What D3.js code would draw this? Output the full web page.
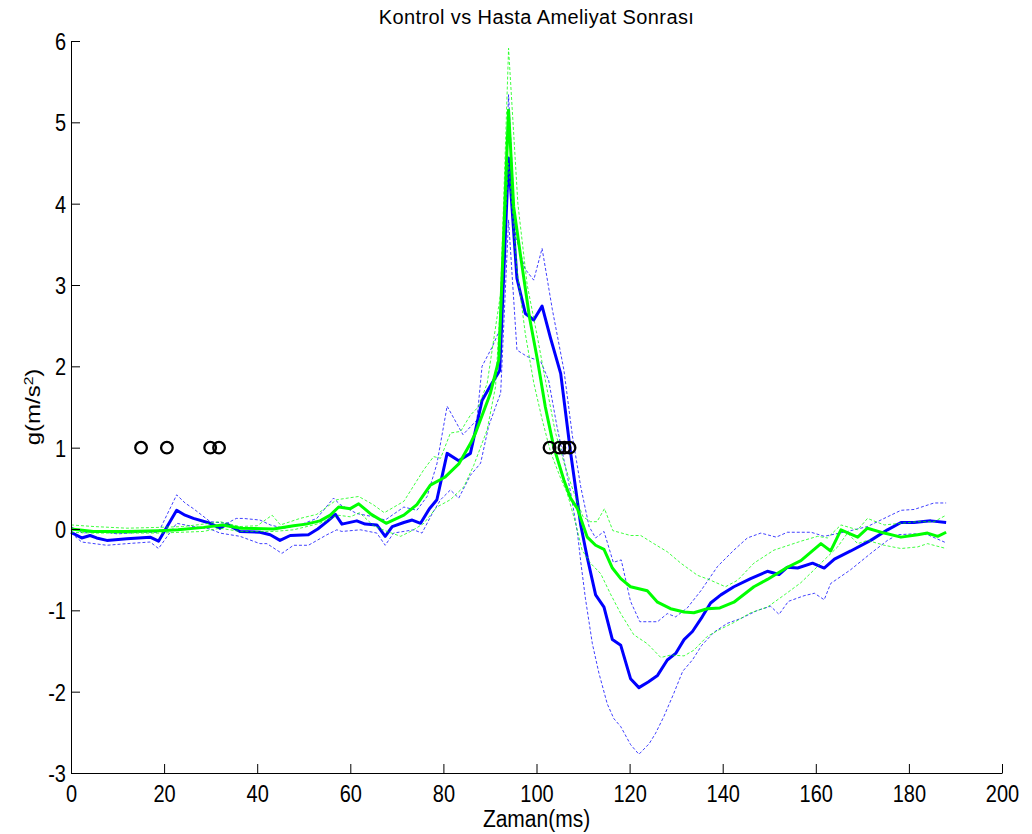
<!DOCTYPE html>
<html>
<head>
<meta charset="utf-8">
<script src="https://cdn.jsdelivr.net/npm/d3@7"></script>
<style>
  html, body { margin: 0; padding: 0; background: #fff; }
  svg { display: block; }
  text { font-family: "Liberation Sans", Arial, sans-serif; fill: #000; }
</style>
</head>
<body>
<svg id="chart" width="1032" height="834"></svg>
<script>
// [time (ms), g (m/s^2)] pairs for each curve
const kontrolOrt = [[0,-0.04],[2.3,-0.11],[4.1,-0.08],[5.5,-0.11],[7.7,-0.14],[12,-0.12],[17,-0.1],[18.8,-0.15],[22.7,0.23],[24.5,0.17],[26.3,0.13],[29.9,0.07],[32,0.01],[33.5,0.06],[36.3,-0.03],[40.6,-0.04],[42.8,-0.07],[44.9,-0.14],[47.1,-0.08],[51,-0.07],[53,0.0],[55,0.09],[56.8,0.18],[58.2,0.06],[61.4,0.1],[63.2,0.06],[65.7,0.05],[67.5,-0.09],[69,0.03],[71.5,0.08],[73.3,0.11],[75.1,0.07],[77,0.25],[78.6,0.36],[80.8,0.93],[83.3,0.84],[85.8,0.93],[88.3,1.58],[90.1,1.76],[92.1,1.95],[94.0,4.56],[95.8,3.08],[97.6,2.65],[99.4,2.57],[101.2,2.74],[103.0,2.35],[105.2,1.91],[107.3,0.95],[109.5,0.05],[110.9,-0.35],[112.7,-0.81],[114.5,-0.96],[116.3,-1.36],[118.1,-1.43],[120.2,-1.84],[122,-1.95],[124,-1.88],[126,-1.8],[128.1,-1.61],[129.9,-1.53],[131.7,-1.36],[133.5,-1.26],[135.6,-1.08],[137.4,-0.91],[139.6,-0.81],[142.4,-0.71],[146,-0.61],[149.6,-0.52],[152.1,-0.56],[153.9,-0.47],[156.1,-0.48],[159.3,-0.42],[161.8,-0.48],[164,-0.37],[167.5,-0.27],[171.8,-0.14],[175.4,-0.01],[178.3,0.08],[181.1,0.08],[184.7,0.1],[188,0.08]];

const kontrolUst = [[0,0.03],[2.5,-0.05],[6,-0.03],[10,-0.06],[15,-0.04],[18.8,-0.04],[22.7,0.42],[24.5,0.32],[26.3,0.25],[29.9,0.09],[33.5,0.07],[35.5,0.13],[37,0.13],[40.6,0.11],[42.8,0.05],[45.7,0.01],[49.2,0.05],[52.8,0.13],[56.4,0.38],[57.8,0.3],[61.4,0.19],[65,0.15],[67.5,0.11],[71.5,0.27],[74.3,0.23],[76.5,0.4],[78.6,0.8],[80.8,1.51],[84.2,1.16],[87.2,1.34],[88.3,2.0],[90.5,2.24],[92.1,2.45],[94,5.34],[95.5,3.6],[97.5,3.2],[99.4,3.06],[101.2,3.45],[103.4,2.7],[105.9,1.95],[107.7,1.15],[109.5,0.52],[111.3,0.03],[112.7,-0.11],[114.5,-0.03],[116.5,-0.41],[118.2,-0.38],[120.2,-0.89],[122.2,-1.14],[126,-1.14],[128.1,-1.04],[129.9,-1.08],[132.4,-0.97],[135.3,-0.76],[138.9,-0.46],[142.4,-0.26],[145.3,-0.11],[148.2,-0.05],[151.5,-0.1],[153.9,-0.04],[159,-0.04],[161.8,-0.09],[166.8,-0.03],[171.1,0.03],[175.4,0.15],[178.3,0.23],[181.1,0.24],[185.4,0.32],[188,0.32]];

const kontrolAlt = [[0,-0.05],[2.3,-0.16],[7.7,-0.2],[12,-0.18],[17,-0.16],[18.8,-0.24],[22.7,0.07],[26.3,0.03],[29.9,0.0],[32,-0.05],[36.3,-0.09],[40.6,-0.18],[42.1,-0.18],[45.3,-0.3],[47.8,-0.2],[51,-0.2],[55,-0.07],[57.1,-0.01],[58.2,-0.03],[62.2,-0.01],[65.7,-0.05],[67.5,-0.2],[69.3,-0.05],[73.6,-0.01],[75.4,-0.05],[77.6,0.19],[79.4,0.36],[81.5,0.48],[83.3,0.38],[85.8,0.66],[88,0.81],[89.7,1.26],[91.2,1.5],[92.3,1.67],[94,3.8],[95.8,2.2],[98,2.12],[100.9,2.06],[102.6,1.83],[104.4,1.26],[105.9,0.85],[107.3,0.46],[108.8,-0.05],[109.5,-0.4],[110.5,-0.85],[112,-1.41],[113.4,-1.77],[115.2,-2.15],[116.6,-2.33],[118.1,-2.43],[120.2,-2.65],[122,-2.77],[124.2,-2.64],[125.6,-2.51],[127.4,-2.3],[129.5,-2.02],[131.4,-1.75],[133.5,-1.61],[135.5,-1.43],[138.1,-1.27],[141,-1.16],[143.9,-1.1],[147.5,-1.0],[150.3,-0.95],[152.1,-1.05],[154.1,-0.89],[157.5,-0.82],[159.7,-0.79],[161.8,-0.87],[163.2,-0.67],[167.5,-0.5],[171.8,-0.3],[175.4,-0.14],[177.6,-0.07],[181.1,-0.06],[184,-0.07],[188,-0.17]];

const hastaOrt = [[0,0.0],[4.8,-0.03],[12,-0.03],[19,-0.02],[23,-0.01],[28.5,0.02],[32.5,0.05],[36.5,0.01],[43.5,0.0],[47.8,0.04],[50.5,0.06],[53.5,0.1],[55.7,0.17],[57.5,0.27],[60,0.25],[61.8,0.31],[64.5,0.18],[67.7,0.07],[71.5,0.17],[74.3,0.3],[77.2,0.54],[80.4,0.64],[83.3,0.8],[85.8,1.05],[86.9,1.18],[90.1,1.67],[91.9,2.08],[94,5.15],[95.1,3.96],[96.6,3.35],[98.5,2.6],[100.2,2.08],[101.9,1.5],[103.7,1.01],[105.9,0.6],[107.3,0.38],[108.8,0.25],[110.9,-0.1],[112.7,-0.2],[114.5,-0.25],[116.3,-0.48],[118.1,-0.61],[120.2,-0.71],[123.8,-0.76],[126,-0.9],[128.8,-0.98],[131.7,-1.02],[133.8,-1.03],[136.7,-0.98],[139.4,-0.97],[142.4,-0.9],[146.7,-0.71],[149.6,-0.62],[153.9,-0.47],[156.8,-0.39],[161.1,-0.18],[163.2,-0.27],[165.4,-0.01],[169,-0.1],[171.1,0.01],[174.7,-0.05],[178.3,-0.1],[181.9,-0.07],[184,-0.05],[186.2,-0.09],[188,-0.04]];

const hastaUst = [[0,0.05],[5,0.03],[12,0.01],[19,0.02],[24,0.03],[28.4,0.06],[32,0.09],[36.3,0.03],[40,0.04],[43.2,0.17],[45,0.05],[49.2,0.13],[52.8,0.18],[57.1,0.36],[61.8,0.4],[64.9,0.3],[67.3,0.2],[71.5,0.34],[75.8,0.73],[77.9,0.89],[79.4,0.87],[81.5,1.18],[83.7,1.2],[85.8,1.4],[87.5,1.5],[89.4,1.79],[92.3,2.9],[94,5.91],[96,4.0],[98,3.0],[100.2,2.36],[102,1.8],[104,1.2],[106,0.8],[108,0.45],[110,0.15],[111.6,0.09],[113,0.09],[114.6,0.25],[116.4,-0.02],[120.2,-0.08],[122.4,-0.08],[125.2,-0.18],[128.1,-0.28],[131,-0.42],[134.6,-0.57],[137,-0.62],[140.6,-0.71],[143.2,-0.63],[146.7,-0.42],[151,-0.26],[156.8,-0.15],[160.4,-0.09],[162.5,-0.11],[165.4,0.05],[169,-0.01],[171.1,0.13],[174.7,0.05],[178.3,0.07],[181.9,0.09],[185.4,0.09],[188,0.17]];

const hastaAlt = [[0,-0.04],[5,-0.05],[19,-0.05],[28.4,-0.03],[32,0.01],[36.3,-0.03],[43.5,-0.03],[47.8,-0.01],[53.5,0.07],[57.3,0.17],[60,0.15],[62,0.2],[65,0.04],[67.9,-0.03],[70.8,-0.09],[73.3,-0.02],[75.8,0.07],[78.6,0.27],[81.5,0.36],[84.4,0.52],[86.5,0.78],[89.4,1.22],[91.2,1.75],[94,4.5],[95.8,3.2],[97.6,2.4],[99.4,1.8],[101.2,1.35],[103,0.95],[105,0.65],[106.6,0.44],[108.4,0.07],[109.8,-0.26],[111.6,-0.42],[113.8,-0.55],[115.9,-0.8],[118.1,-1.04],[120.9,-1.3],[123.8,-1.41],[126.7,-1.58],[128.8,-1.55],[131.7,-1.56],[133.8,-1.49],[136.7,-1.32],[139.2,-1.24],[142.4,-1.15],[146,-1.03],[149.6,-0.96],[153.5,-0.8],[156.8,-0.66],[161.1,-0.42],[164.7,-0.22],[166.8,-0.05],[169,-0.18],[171.1,-0.14],[174.7,-0.2],[178.3,-0.24],[181.9,-0.22],[184,-0.18],[188,-0.24]];

// Event markers drawn at g = 1
const olayZamanlari = [15.05, 20.6, 29.9, 31.8, 102.8, 104.9, 106.0, 107.1];
const olayDegeri = 1;

const xTicks = [0, 20, 40, 60, 80, 100, 120, 140, 160, 180, 200];
const yTicks = [-3, -2, -1, 0, 1, 2, 3, 4, 5, 6];

const svg = d3.select("#chart");
const margin = { left: 71, right: 30, top: 41, bottom: 61 };
const W = 1032, H = 834;

const x = d3.scaleLinear().domain([0, 200]).range([margin.left, W - margin.right]);
const y = d3.scaleLinear().domain([-3, 6]).range([H - margin.bottom, margin.top]);

const line = d3.line().x(d => x(d[0])).y(d => y(d[1]));

const g = svg.append("g");

function drawSeries(data, color, dashed) {
  g.append("path")
    .datum(data)
    .attr("fill", "none")
    .attr("stroke", color)
    .attr("stroke-width", dashed ? 1 : 3)
    .attr("stroke-opacity", dashed ? 0.75 : 1)
    .attr("stroke-dasharray", dashed ? "3,2" : null)
    .attr("stroke-linejoin", "round")
    .attr("d", line);
}

drawSeries(kontrolUst, "#0000ff", true);
drawSeries(kontrolAlt, "#0000ff", true);
drawSeries(kontrolOrt, "#0000ff", false);
drawSeries(hastaUst, "#00ff00", true);
drawSeries(hastaAlt, "#00ff00", true);
drawSeries(hastaOrt, "#00ff00", false);

g.selectAll("circle.olay")
  .data(olayZamanlari)
  .enter().append("circle")
  .attr("class", "olay")
  .attr("cx", d => x(d))
  .attr("cy", y(olayDegeri))
  .attr("r", 5.8)
  .attr("fill", "none")
  .attr("stroke", "#000")
  .attr("stroke-width", 2.3);

// Axes: ticks pointing into the plot, no box; labels are slightly tall glyphs
const xAxis = d3.axisBottom(x).tickValues(xTicks).tickFormat(d => String(d)).tickSizeInner(-9).tickSizeOuter(0);
const yAxis = d3.axisLeft(y).tickValues(yTicks).tickFormat(d => String(d)).tickSizeInner(-9).tickSizeOuter(0);

const gx = svg.append("g").attr("transform", `translate(0,${H - margin.bottom})`).call(xAxis);
const gy = svg.append("g").attr("transform", `translate(${margin.left},0)`).call(yAxis);

[gx, gy].forEach(a => {
  a.select(".domain").attr("stroke", "#000").attr("stroke-width", 1);
  a.selectAll(".tick line").attr("stroke", "#000").attr("stroke-width", 1);
  a.selectAll(".tick text")
    .style("font-family", "'Liberation Sans', Arial, sans-serif")
    .style("font-size", "20px")
    .attr("fill", "#000")
    .attr("x", null).attr("y", null).attr("dy", null);
});
gx.selectAll(".tick text").attr("transform", "translate(0,29) scale(1,1.2)");
gy.selectAll(".tick text").attr("transform", "translate(-5,8.5) scale(1,1.2)");

svg.append("text")
  .attr("x", x(100))
  .attr("y", 24)
  .attr("text-anchor", "middle")
  .style("font-size", "20px")
  .style("letter-spacing", "0.4px")
  .text("Kontrol vs Hasta Ameliyat Sonrası");

svg.append("text")
  .attr("transform", `translate(${x(100)},827) scale(1,1.15)`)
  .attr("text-anchor", "middle")
  .style("font-size", "21px")
  .text("Zaman(ms)");

const yl = svg.append("text")
  .attr("transform", `translate(40,407) rotate(-90) scale(1.2,1)`)
  .attr("text-anchor", "middle")
  .style("font-size", "20px");
yl.append("tspan").text("g(m/s");
yl.append("tspan").attr("baseline-shift", "super").style("font-size", "13px").text("2");
yl.append("tspan").text(")");
</script>
</body>
</html>
